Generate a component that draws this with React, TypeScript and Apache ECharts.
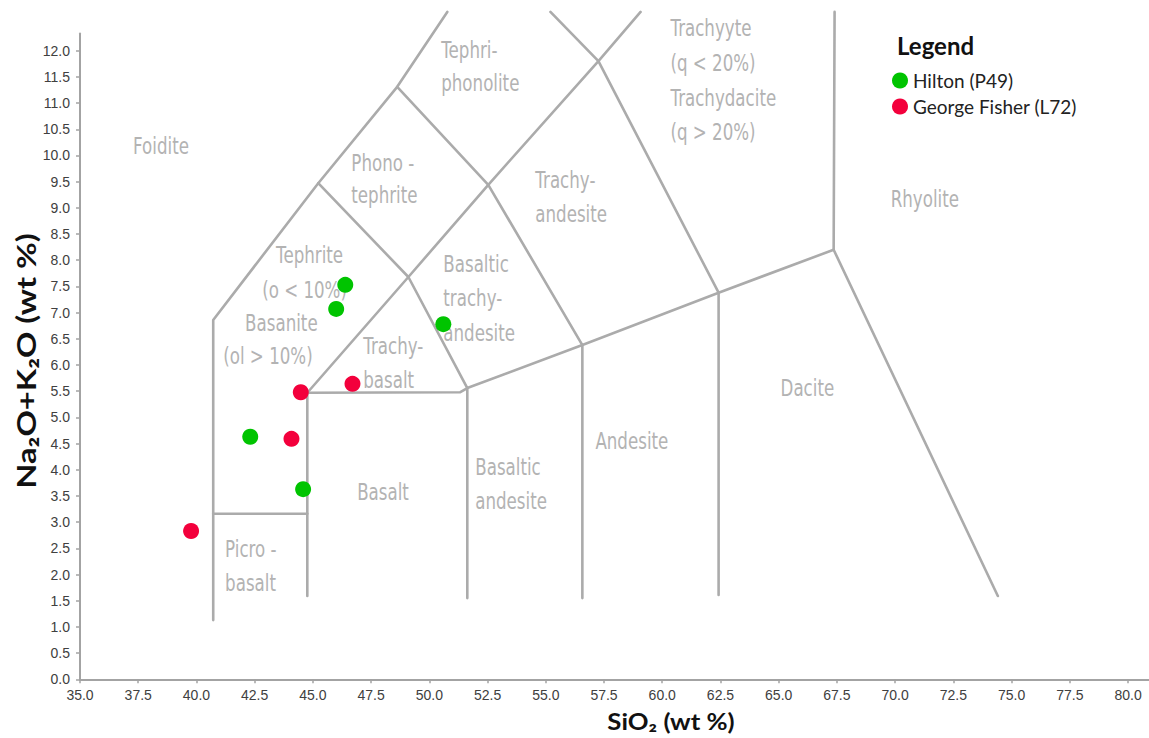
import React, { useEffect, useRef } from "react";
import * as echarts from "echarts";

// ---- axis ticks ----
const X_TICKS = [35, 37.5, 40, 42.5, 45, 47.5, 50, 52.5, 55, 57.5, 60, 62.5, 65, 67.5, 70, 72.5, 75, 77.5, 80];
const Y_TICKS = [0, 0.5, 1, 1.5, 2, 2.5, 3, 3.5, 4, 4.5, 5, 5.5, 6, 6.5, 7, 7.5, 8, 8.5, 9, 9.5, 10, 10.5, 11, 11.5, 12];

// ---- samples (SiO2, Na2O+K2O) ----
const HILTON = [
  [46.39, 7.53],
  [46.0, 7.07],
  [50.6, 6.78],
  [42.31, 4.63],
  [44.58, 3.63],
];
const GEORGE_FISHER = [
  [44.48, 5.48],
  [46.7, 5.64],
  [44.08, 4.59],
  [39.77, 2.83],
];

// ---- TAS field boundaries (as drawn in the reference) ----
const OUTER_LEFT = [[40.72, 1.13], [40.72, 6.86], [45.23, 9.47], [48.62, 11.31], [50.77, 12.74]];
const PICRO_TOP = [[40.72, 3.16], [44.76, 3.16]];
const SI45_TEPHRITE = [[44.76, 1.59], [44.76, 5.47], [49.1, 7.68], [52.53, 9.44], [57.26, 11.8], [59.07, 12.74]];
const PHONOTEPHRITE_BASE = [[45.23, 9.47], [49.1, 7.68], [51.63, 5.56]];
const TEPHRIPHONOLITE_BASE = [[48.62, 11.31], [52.53, 9.44], [56.57, 6.38]];
const PHONOLITE_BASE = [[55.2, 12.74], [57.26, 11.8], [62.42, 7.38]];
const ALKALINE_LINE = [[44.76, 5.47], [51.33, 5.48], [51.63, 5.56], [56.57, 6.38], [62.42, 7.38], [67.36, 8.2]];
const SI52 = [[51.63, 5.56], [51.63, 1.55]];
const SI57 = [[56.57, 6.38], [56.57, 1.55]];
const SI63 = [[62.42, 7.38], [62.42, 1.61]];
const RHYOLITE_EDGE = [[67.4, 12.74], [67.36, 8.2], [74.41, 1.59]];

const BOUNDARIES = [
  OUTER_LEFT,
  PICRO_TOP,
  SI45_TEPHRITE,
  PHONOTEPHRITE_BASE,
  TEPHRIPHONOLITE_BASE,
  PHONOLITE_BASE,
  ALKALINE_LINE,
  SI52,
  SI57,
  SI63,
  RHYOLITE_EDGE,
];

// ---- field names: [text, SiO2 at left edge, Na2O+K2O at line middle] ----
const REGION_LABELS: [string, number, number][] = [
  ["Foidite", 37.28, 10.18],
  ["Tephri-", 50.51, 12.01],
  ["phonolite", 50.51, 11.38],
  ["Phono -", 46.65, 9.86],
  ["tephrite", 46.65, 9.25],
  ["Trachyyte", 60.35, 12.43],
  ["(q < 20%)", 60.35, 11.77],
  ["Trachydacite", 60.35, 11.1],
  ["(q > 20%)", 60.35, 10.45],
  ["Trachy-", 54.55, 9.53],
  ["andesite", 54.55, 8.88],
  ["Rhyolite", 69.81, 9.17],
  ["Tephrite", 43.42, 8.1],
  ["(o < 10%)", 42.82, 7.43],
  ["Basanite", 42.09, 6.8],
  ["(ol > 10%)", 41.15, 6.17],
  ["Basaltic", 50.6, 7.93],
  ["trachy-", 50.6, 7.28],
  ["andesite", 50.6, 6.61],
  ["Trachy-", 47.16, 6.36],
  ["basalt", 47.16, 5.71],
  ["Dacite", 65.08, 5.56],
  ["Andesite", 57.13, 4.55],
  ["Basaltic", 51.97, 4.05],
  ["andesite", 51.97, 3.4],
  ["Basalt", 46.9, 3.58],
  ["Picro -", 41.23, 2.49],
  ["basalt", 41.23, 1.84],
];

const SERIES_NAMES = ["Hilton (P49)", "George Fisher (L72)"];
const SERIES_COLORS = ["#00c400", "#f3003c"];

const LINE_COLOR = "#ababab";
const AXIS_COLOR = "#a3a3a3";
const LABEL_COLOR = "#404040";

export default function App() {
  const ref = useRef<HTMLDivElement>(null);

  useEffect(() => {
    document.body.style.margin = "0";
    const chart = echarts.init(ref.current!, null, { renderer: "svg" });

    const boundarySeries = BOUNDARIES.map((pts) => ({
      type: "line",
      data: pts,
      showSymbol: false,
      symbol: "none",
      clip: false,
      silent: true,
      z: 1,
      lineStyle: { color: LINE_COLOR, width: 2.6, cap: "round", join: "round" },
    }));

    const option: any = {
      animation: false,
      backgroundColor: "#ffffff",
      grid: { left: 80, right: 0, top: 33.4, bottom: 58.7, containLabel: false, outerBoundsMode: "none" },
      xAxis: {
        type: "value",
        min: 35,
        max: 80.9,
        axisLine: { show: true, onZero: false, lineStyle: { color: AXIS_COLOR, width: 2 } },
        axisTick: { show: true, length: 4, customValues: X_TICKS, lineStyle: { color: AXIS_COLOR, width: 1.5 } },
        axisLabel: {
          customValues: X_TICKS,
          formatter: (v: number) => v.toFixed(1),
          color: LABEL_COLOR,
          fontSize: 14,
          fontFamily: "Liberation Sans",
          margin: 9,
        },
        splitLine: { show: false },
      },
      yAxis: {
        type: "value",
        min: 0,
        max: 12.33,
        axisLine: { show: true, onZero: false, lineStyle: { color: AXIS_COLOR, width: 2 } },
        axisTick: { show: true, length: 4, customValues: Y_TICKS, lineStyle: { color: AXIS_COLOR, width: 1.5 } },
        axisLabel: {
          customValues: Y_TICKS,
          formatter: (v: number) => v.toFixed(1),
          color: LABEL_COLOR,
          fontSize: 14,
          fontFamily: "Liberation Sans",
          margin: 10,
        },
        splitLine: { show: false },
      },
      legend: {
        data: SERIES_NAMES,
        orient: "vertical",
        left: 887,
        top: 66,
        icon: "circle",
        itemWidth: 16,
        itemHeight: 16,
        itemGap: 7,
        textStyle: { fontFamily: "Lato", fontSize: 19, color: "#222222" },
      },
      series: [
        ...boundarySeries,
        {
          name: SERIES_NAMES[0],
          type: "scatter",
          data: HILTON,
          symbol: "circle",
          symbolSize: 16,
          z: 5,
          itemStyle: { color: SERIES_COLORS[0], opacity: 1 },
        },
        {
          name: SERIES_NAMES[1],
          type: "scatter",
          data: GEORGE_FISHER,
          symbol: "circle",
          symbolSize: 16,
          z: 5,
          itemStyle: { color: SERIES_COLORS[1], opacity: 1 },
        },
      ],
    };

    chart.setOption(option);

    const labelGraphics = REGION_LABELS.map(([text, x, y]) => {
      const p = chart.convertToPixel({ gridIndex: 0 }, [x, y]) as number[];
      return {
        type: "text",
        x: p[0],
        y: p[1],
        scaleX: 0.71,
        silent: true,
        z: 0,
        style: {
          text,
          fill: "#b3b3b3",
          fontSize: 23.5,
          fontFamily: "DejaVu Sans",
          align: "left",
          verticalAlign: "middle",
        },
      };
    });

    chart.setOption({
      graphic: [
        ...labelGraphics,
        {
          type: "text",
          x: 897,
          y: 45,
          silent: true,
          style: {
            text: "Legend",
            fill: "#111111",
            fontSize: 24,
            fontWeight: "bold",
            fontFamily: "Lato",
            align: "left",
            verticalAlign: "middle",
          },
        },
        {
          type: "text",
          x: 671,
          y: 721,
          scaleX: 1.17,
          silent: true,
          style: {
            text: "SiO₂ (wt %)",
            fill: "#111111",
            fontSize: 22,
            fontWeight: "bold",
            fontFamily: "Lato",
            align: "center",
            verticalAlign: "middle",
          },
        },
        {
          type: "text",
          x: 25,
          y: 361,
          rotation: Math.PI / 2,
          scaleX: 1.21,
          silent: true,
          style: {
            text: "Na₂O+K₂O (wt %)",
            fill: "#111111",
            fontSize: 27,
            fontWeight: "bold",
            fontFamily: "Lato",
            align: "center",
            verticalAlign: "middle",
          },
        },
      ],
    });

    return () => {
      chart.dispose();
    };
  }, []);

  return (
    <div
      ref={ref}
      style={{ position: "absolute", left: 0, top: 0, width: 1149, height: 738, background: "#fff" }}
    />
  );
}
